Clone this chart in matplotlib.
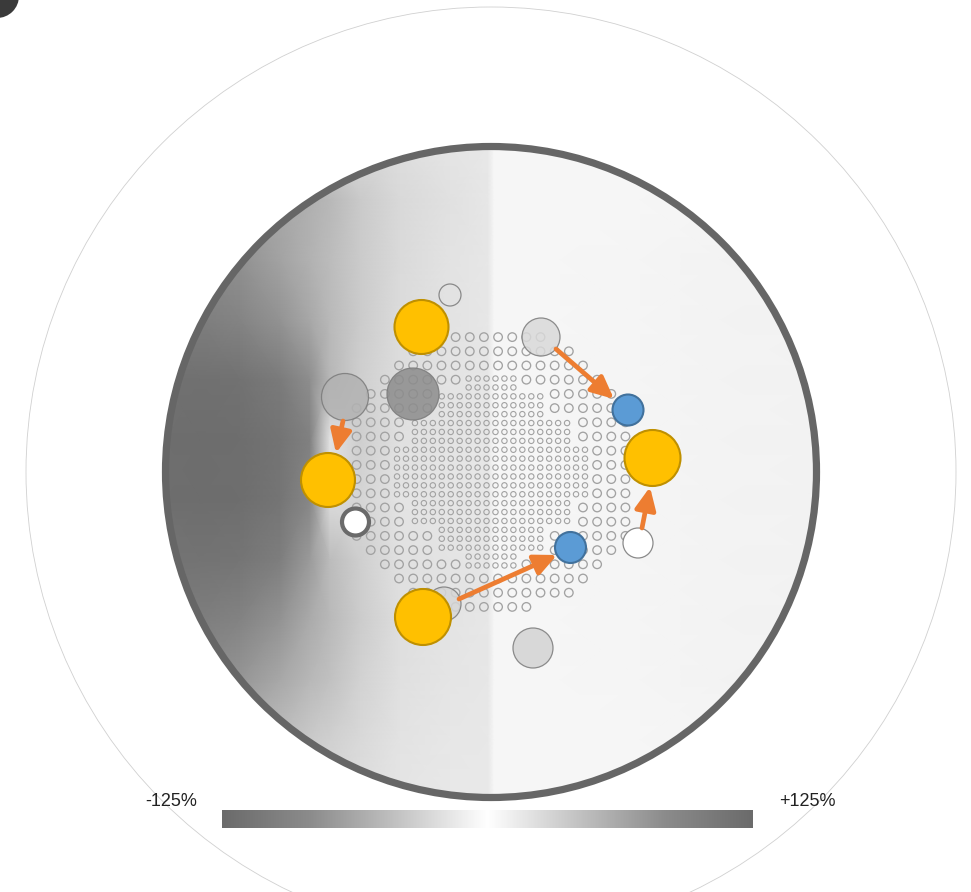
import numpy as np
import matplotlib.pyplot as plt
from matplotlib.patches import Circle
from matplotlib.colors import LinearSegmentedColormap

W, H = 971, 892

# core outline, pixel coordinates (y grows downward)
core_x, core_y, core_r = 491, 472, 325.5
outer_r = 465

# deviation field (%) sampled on a coarse grid, left half negative
field_x = [165, 200, 240, 280, 310, 330, 360, 400, 450, 488, 494, 560, 640, 720, 818]
field_y = [146, 200, 260, 320, 380, 440, 500, 560, 620, 680, 740, 798]
field_v = [
    [-55, -54, -48, -42, -36, -32, -27, -23, -18, -16, -6, -6, -6, -6, -6],
    [-82, -78, -71, -63, -56, -50, -38, -27, -21, -17, -6, -6, -6, -7, -8],
    [-91, -87, -80, -66, -55, -47, -37, -26, -20, -17, -6, -6, -7, -8, -9],
    [-105, -100, -93, -78, -62, -49, -37, -25, -20, -17, -6, -6, -7, -8, -9],
    [-116, -118, -116, -104, -82, -51, -34, -23, -19, -17, -6, -6, -7, -8, -9],
    [-121, -122, -121, -114, -97, -20, -34, -21, -19, -17, -6, -6, -7, -8, -9],
    [-121, -122, -121, -112, -89, -25, -30, -19, -18, -17, -6, -6, -7, -8, -9],
    [-113, -115, -112, -100, -72, -47, -34, -21, -19, -17, -6, -6, -7, -8, -9],
    [-102, -101, -94, -78, -60, -49, -36, -23, -19, -17, -6, -6, -7, -8, -9],
    [-89, -84, -76, -62, -50, -43, -32, -22, -18, -17, -6, -6, -7, -8, -9],
    [-71, -65, -54, -45, -38, -33, -27, -20, -17, -16, -6, -6, -6, -7, -8],
    [-50, -46, -41, -35, -31, -27, -23, -18, -16, -16, -6, -6, -6, -6, -6],
]
vmin, vmax = -125, 125
bar_labels = ["-125%", "+125%"]

# large pin lattice: row offsets and column segments in pitch units
large_pitch = (14.15, 14.2)
large_rows = [-9.5, -8.5, -7.5, -6.5, -5.5, -4.5, -3.5, -2.5, -1.5, -0.5,
              0.5, 1.5, 2.5, 3.5, 4.5, 5.5, 6.5, 7.5, 8.5, 9.5]
large_cols = [
    [(-3.5, 3.5)],
    [(-5.5, 5.5)],
    [(-6.5, 6.5)],
    [(-7.5, -2.5), (2.5, 7.5)],
    [(-8.5, -4.5), (4.5, 8.5)],
    [(-9.5, -4.5), (4.5, 9.5)],
    [(-9.5, -6.5), (6.5, 9.5)],
    [(-9.5, -6.5), (6.5, 9.5)],
    [(-9.5, -7.5), (7.5, 9.5)],
    [(-9.5, -7.5), (7.5, 9.5)],
    [(-9.5, -7.5), (7.5, 9.5)],
    [(-9.5, -7.5), (7.5, 9.5)],
    [(-9.5, -6.5), (6.5, 9.5)],
    [(-9.5, -6.5), (6.5, 9.5)],
    [(-9.5, -4.5), (4.5, 9.5)],
    [(-8.5, -4.5), (4.5, 8.5)],
    [(-7.5, -2.5), (2.5, 7.5)],
    [(-6.5, 6.5)],
    [(-5.5, 5.5)],
    [(-3.5, 2.5)],
]

# small pin lattice in the middle: row offsets and half widths
small_pitch = (8.95, 8.9)
small_rows = [-10.5, -9.5, -8.5, -7.5, -6.5, -5.5, -4.5, -3.5, -2.5, -1.5, -0.5,
              0.5, 1.5, 2.5, 3.5, 4.5, 5.5, 6.5, 7.5, 8.5, 9.5, 10.5]
small_half = [2.5, 2.5, 5.5, 5.5, 5.5, 8.5, 8.5, 8.5, 10.5, 10.5, 10.5,
              10.5, 10.5, 10.5, 8.5, 8.5, 8.5, 5.5, 5.5, 5.5, 2.5, 2.5]

# instrument positions drawn over the core
gray_x = [450, 541, 345, 413, 444, 533]
gray_y = [295, 337, 397, 394, 604, 648]
gray_r = [11, 19, 23.5, 26, 17, 20]
gray_face = ["#e2e2e2", "#d9d9d9", "#b2b2b2", "#8c8c8c", "#d6d6d6", "#d3d3d3"]

ring_x = [355.5, 638]
ring_y = [522, 543]
ring_r = [13.5, 15]
ring_edge = ["#6a6a6a", "#8a8a8a"]
ring_lw = [3.0, 0.9]

new_x = [421.5, 328, 652.5, 423]
new_y = [327, 480, 458, 617]
new_r = [27, 27, 28, 28]

moved_x = [628, 570.5]
moved_y = [410, 547.5]
moved_r = [15.5, 15.5]

arrow_from = [(556, 349), (343, 421), (642, 528), (459, 599)]
arrow_to = [(614, 399), (336, 453), (650, 487), (557, 555)]

fig = plt.figure(figsize=(W / 100, H / 100), dpi=100)
ax = fig.add_axes([0, 0, 1, 1])
ax.set_xlim(0, W)
ax.set_ylim(H, 0)
ax.set_aspect("equal")
ax.axis("off")

cmap = LinearSegmentedColormap.from_list(
    "dev", ["#6b6b6b", "#8c8c8c", "#c4c4c4", "#ffffff", "#c4c4c4", "#8c8c8c", "#6b6b6b"])

clip = Circle((core_x, core_y), core_r, transform=ax.transData)
X, Y = np.meshgrid(field_x, field_y)
mesh = ax.pcolormesh(X, Y, np.array(field_v), shading="gouraud", cmap=cmap,
                     vmin=vmin, vmax=vmax, zorder=0)
mesh.set_clip_path(clip)

ax.add_patch(Circle((core_x, core_y), outer_r, fill=False, ec="#d0d0d0", lw=0.6, zorder=1))
ax.add_patch(Circle((core_x, core_y), core_r, fill=False, ec="#666666", lw=5.2, zorder=6))

# pins
px, py = [], []
for b, segs in zip(large_rows, large_cols):
    for a0, a1 in segs:
        for a in np.arange(a0, a1 + 0.1, 1.0):
            px.append(core_x + a * large_pitch[0])
            py.append(core_y + b * large_pitch[1])
ax.scatter(px, py, s=38, facecolors="none", edgecolors="#a2a2a2", linewidths=0.95, zorder=2)

sx, sy = [], []
for r, hw in zip(small_rows, small_half):
    for s in np.arange(-hw, hw + 0.1, 1.0):
        sx.append(core_x + s * small_pitch[0])
        sy.append(core_y + r * small_pitch[1])
ax.scatter(sx, sy, s=15, facecolors="none", edgecolors="#a2a2a2", linewidths=0.8, zorder=2)

for x, y, r, fc in zip(gray_x, gray_y, gray_r, gray_face):
    ax.add_patch(Circle((x, y), r, fc=fc, ec="#7a7a7a", lw=0.9, alpha=0.85, zorder=3))
for x, y, r, ec, lw in zip(ring_x, ring_y, ring_r, ring_edge, ring_lw):
    ax.add_patch(Circle((x, y), r, fc="white", ec=ec, lw=lw, zorder=3))

for p0, p1 in zip(arrow_from, arrow_to):
    ax.annotate("", xy=p1, xytext=p0, zorder=4,
                arrowprops=dict(arrowstyle="-|>,head_length=0.75,head_width=0.35",
                                mutation_scale=18, lw=3.4, color="#ED7D31",
                                shrinkA=0, shrinkB=0))

for x, y, r in zip(new_x, new_y, new_r):
    ax.add_patch(Circle((x, y), r, fc="#FFC000", ec="#BF9000", lw=1.5, zorder=5))
for x, y, r in zip(moved_x, moved_y, moved_r):
    ax.add_patch(Circle((x, y), r, fc="#5B9BD5", ec="#41719C", lw=1.5, zorder=5))

# colour scale
ax.imshow(np.linspace(vmin, vmax, 256)[None, :], cmap=cmap, vmin=vmin, vmax=vmax,
          extent=(222, 753, 828, 810), aspect="auto", zorder=1)
ax.text(171, 802, bar_labels[0], ha="center", va="center", fontsize=13,
        family="Liberation Sans", color="#222222")
ax.text(807, 802, bar_labels[1], ha="center", va="center", fontsize=13,
        family="Liberation Sans", color="#222222")

# panel badge in the corner
ax.add_patch(Circle((-3, -4), 22, fc="#3a3a3a", ec="none", zorder=7))

ax.set_xlim(0, W)
ax.set_ylim(H, 0)
fig.savefig("out.png", dpi=100)
